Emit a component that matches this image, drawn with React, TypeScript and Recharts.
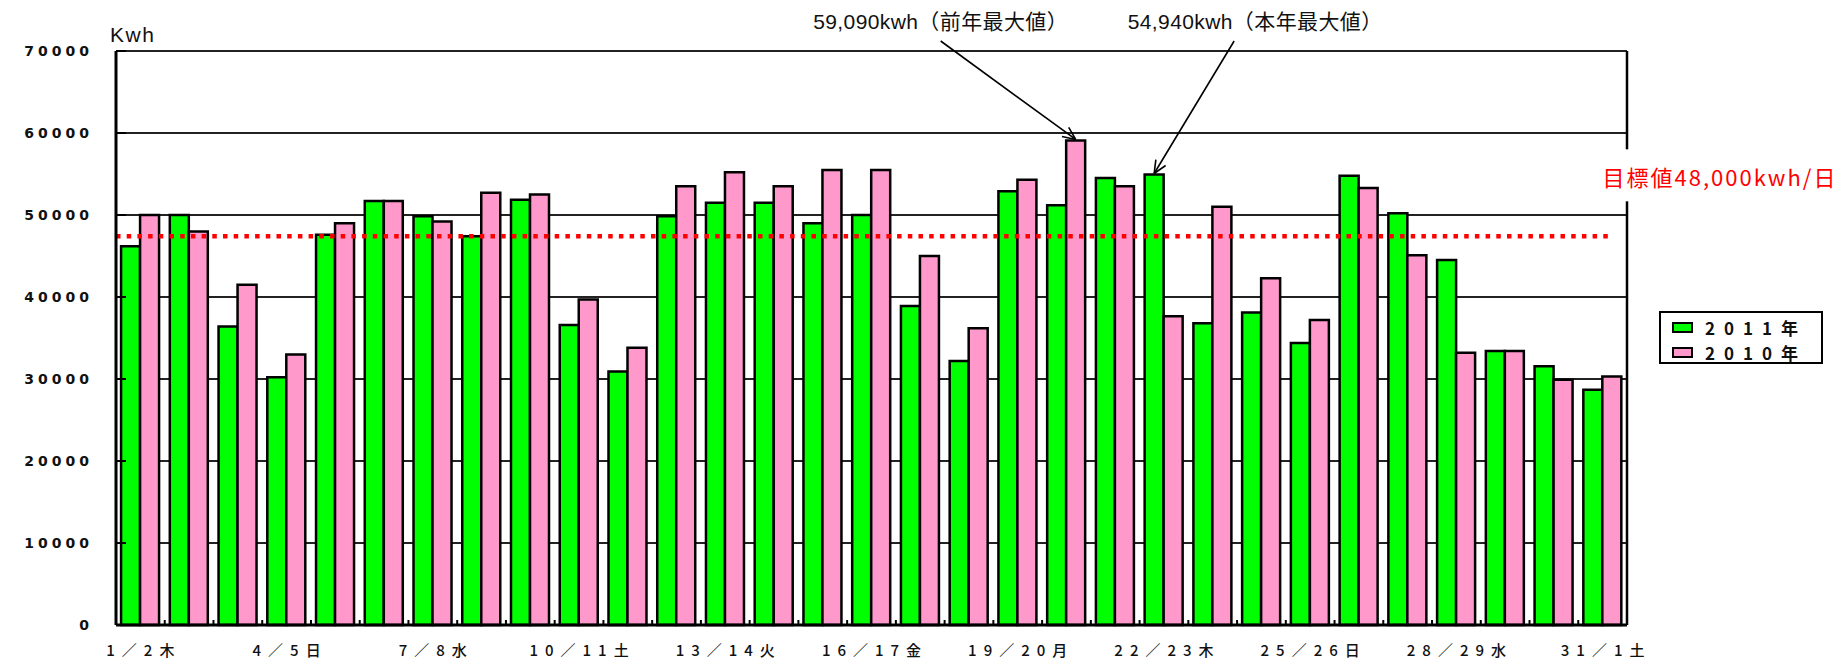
import React from 'react';
import { BarChart, Bar, XAxis, YAxis, CartesianGrid, ReferenceLine, LabelList, Legend } from 'recharts';

const DAYS = [1, 2, 3, 4, 5, 6, 7, 8, 9, 10, 11, 12, 13, 14, 15, 16, 17, 18, 19, 20, 21, 22, 23, 24, 25, 26, 27, 28, 29, 30, 31];

const TICK_LABELS = [
  '1／2木', '4／5日', '7／8水', '10／11土', '13／14火', '16／17金',
  '19／20月', '22／23木', '25／26日', '28／29水', '31／1土',
];

const KWH_2011 = [
  46200, 50000, 36400, 30200, 47600, 51700, 49850, 47400, 51850, 36600, 30900,
  49850, 51500, 51500, 49000, 50000, 38900, 32200, 52900, 51200, 54500, 54940,
  36800, 38100, 34400, 54800, 50200, 44500, 33400, 31550, 28700,
];

const KWH_2010 = [
  50000, 48000, 41500, 33000, 49000, 51700, 49200, 52700, 52500, 39700, 33800,
  53500, 55200, 53500, 55500, 55500, 45000, 36200, 54300, 59090, 53500, 37650,
  51000, 42300, 37200, 53300, 45100, 33200, 33400, 29900, 30300,
];

const Y_TICKS = [0, 10000, 20000, 30000, 40000, 50000, 60000, 70000];
const TARGET_LINE = 47400;
const TARGET_END = 30.65;
const TARGET_LABEL = '目標値48,000kwh/日';
const SERIES_NAMES = ['2011年', '2010年'];
const NOTE_2011 = '54,940kwh（本年最大値）';
const NOTE_2010 = '59,090kwh（前年最大値）';

const GREEN = '#00FF00';
const PINK = '#FF99CC';
const JP = '"Noto Sans CJK JP", sans-serif';
const SANS = '"Liberation Sans", Arial, "Noto Sans CJK JP", sans-serif';

const data = DAYS.map((day, i) => ({ day, pos: i + 0.5, y2011: KWH_2011[i], y2010: KWH_2010[i] }));
const boundaries = DAYS.map((_, i) => i).concat(DAYS.length);

const peak2011 = KWH_2011.indexOf(Math.max(...KWH_2011));
const peak2010 = KWH_2010.indexOf(Math.max(...KWH_2010));

const Arrow = ({ x1, y1, x2, y2 }: any) => {
  const ang = Math.atan2(y2 - y1, x2 - x1);
  const len = 14;
  const a1 = ang + Math.PI - 0.42;
  const a2 = ang + Math.PI + 0.42;
  return (
    <g stroke="#000" strokeWidth={1.6} fill="none">
      <line x1={x1} y1={y1} x2={x2} y2={y2} />
      <line x1={x2} y1={y2} x2={x2 + len * Math.cos(a1)} y2={y2 + len * Math.sin(a1)} />
      <line x1={x2} y1={y2} x2={x2 + len * Math.cos(a2)} y2={y2 + len * Math.sin(a2)} />
    </g>
  );
};

const peakNote = (peakIndex: number, dxStart: number, dxText: number, text: string) => (props: any) => {
  if (props.index !== peakIndex) return null;
  const vb = props.viewBox || props;
  const cx = vb.x + vb.width / 2;
  const sx = cx + dxStart;
  return (
    <g>
      <Arrow x1={sx} y1={33} x2={cx} y2={vb.y - 1} />
      <text x={sx + dxText} y={13} textAnchor="middle" dominantBaseline="central"
        fontFamily={SANS} fontSize={21} letterSpacing={0.4} fill="#111">
        {text}
      </text>
    </g>
  );
};

const YTick = ({ x, y, payload }: any) => (
  <g>
    <text x={x} y={y} textAnchor="end" dominantBaseline="central" fontFamily="DejaVu Sans"
      fontWeight="bold" fontSize={14} letterSpacing={4} fill="#111">
      {payload.value}
    </text>
    {payload.value === Y_TICKS[Y_TICKS.length - 1] && (
      <text x={x + 17} y={y - 9.5} fontFamily={SANS} fontSize={21} letterSpacing={1.5} fill="#111">Kwh</text>
    )}
  </g>
);

const XTick = ({ x, y, payload }: any) => {
  const idx = DAYS.indexOf(payload.value);
  if (idx % 3 !== 0) return <g />;
  return (
    <text x={x + 3.5} y={y + 12} textAnchor="middle" fontFamily={JP} fontSize={15}
      fontWeight={500} letterSpacing={7} fill="#111">
      {TICK_LABELS[idx / 3]}
    </text>
  );
};

const EmptyTick = () => <g />;

const TargetLabel = (props: any) => {
  const vb = props.viewBox;
  const right = vb.x + vb.width;
  return (
    <g>
      <rect x={right - 27} y={vb.y - 87} width={240} height={52} fill="#fff" />
      <text x={right + 93} y={vb.y - 60} textAnchor="middle" dominantBaseline="central"
        fontFamily={JP} fontSize={22} letterSpacing={2} fill="#FF0000">
        {TARGET_LABEL}
      </text>
    </g>
  );
};

const LegendBox = () => (
  <div style={{
    boxSizing: 'border-box', width: 164, height: 53, border: '2px solid #000', background: '#fff',
    padding: '1.5px 0 0 11px', fontFamily: JP, fontSize: 17, fontWeight: 700, color: '#111',
  }}>
    {SERIES_NAMES.map((name, i) => (
      <div key={name} style={{ display: 'flex', alignItems: 'center', height: 25 }}>
        <span style={{
          display: 'inline-block', width: 21, height: 11, boxSizing: 'border-box',
          border: '2px solid #000', background: i === 0 ? GREEN : PINK,
        }} />
        <span style={{ marginLeft: 12, letterSpacing: 9, lineHeight: '25px' }}>{name}</span>
      </div>
    ))}
  </div>
);

export default function App() {
  return (
    <div style={{ width: 1829, height: 656, background: '#fff' }}>
      <BarChart
        width={1829}
        height={656}
        data={data}
        margin={{ top: 43, right: 210, left: 18, bottom: 38.98 }}
        barCategoryGap="10.4%"
        barGap={0}
      >
        <CartesianGrid vertical={false} stroke="#222" strokeWidth={2} />
        <XAxis
          dataKey="day"
          height={0.01}
          interval={0}
          tickSize={0}
          tickMargin={19}
          tickLine={false}
          axisLine={{ stroke: '#000', strokeWidth: 3 }}
          tick={XTick}
        />
        <XAxis
          xAxisId="b"
          dataKey="pos"
          type="number"
          domain={[0, DAYS.length]}
          allowDataOverflow
          ticks={boundaries}
          interval={0}
          height={0.01}
          tickSize={-5}
          tickLine={{ stroke: '#000', strokeWidth: 2 }}
          axisLine={false}
          tick={EmptyTick}
        />
        <YAxis
          width={90}
          domain={[0, 70000]}
          ticks={Y_TICKS}
          interval={0}
          tickSize={-10}
          tickMargin={33}
          tickLine={{ stroke: '#000', strokeWidth: 2 }}
          axisLine={{ stroke: '#000', strokeWidth: 3 }}
          tick={YTick}
        />
        <Bar dataKey="y2011" name={SERIES_NAMES[0]} fill={GREEN} stroke="#000" strokeWidth={2.5} isAnimationActive={false}>
          <LabelList content={peakNote(peak2011, 80, 21, NOTE_2011)} />
        </Bar>
        <Bar dataKey="y2010" name={SERIES_NAMES[1]} fill={PINK} stroke="#000" strokeWidth={2.5} isAnimationActive={false}>
          <LabelList content={peakNote(peak2010, -135, 0, NOTE_2010)} />
        </Bar>
        <ReferenceLine xAxisId="b" x={DAYS.length} stroke="#000" strokeWidth={2.5} />
        <ReferenceLine
          xAxisId="b"
          segment={[{ x: 0, y: TARGET_LINE }, { x: TARGET_END, y: TARGET_LINE }]}
          stroke="#FF0000"
          strokeWidth={4.5}
          strokeDasharray="4.5 6.2"
        />
        <ReferenceLine y={TARGET_LINE} stroke="none" label={TargetLabel} />
        <Legend
          layout="vertical"
          align="center"
          verticalAlign="middle"
          wrapperStyle={{ left: 1651, top: 303, width: 164, height: 53 }}
          content={LegendBox}
        />
      </BarChart>
    </div>
  );
}
